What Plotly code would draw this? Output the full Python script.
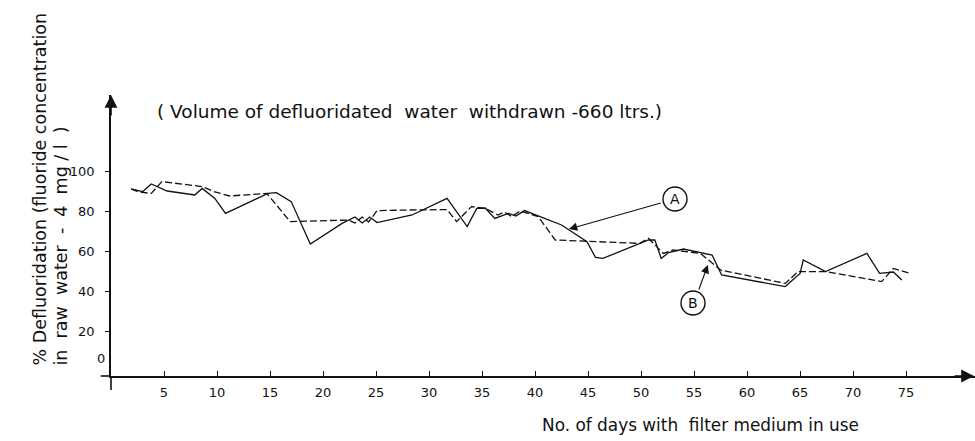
import plotly.graph_objects as go

# Curve A (solid): % defluoridation vs. days of filter use
days_a = [1.9, 3.0, 3.8, 4.3, 5.3, 7.9, 8.6, 9.8, 10.8, 14.8, 15.6, 17.0, 18.8,
          21.8, 23.0, 23.7, 24.4, 25.1, 28.4, 31.7, 32.8, 33.6, 34.5, 35.3,
          36.2, 37.5, 38.2, 39.0, 42.5, 44.9, 45.7, 46.4, 50.7, 51.3, 51.9,
          52.6, 54.0, 56.7, 57.6, 63.6, 65.0, 65.3, 67.4, 71.3, 72.5, 73.8, 74.6]
pct_a = [91.0, 89.7, 93.5, 92.2, 90.0, 88.0, 91.3, 86.3, 78.8, 88.8, 89.2, 84.7, 63.5,
         73.8, 77.0, 74.0, 77.0, 74.2, 78.0, 86.3, 78.0, 72.2, 81.3, 81.5,
         76.3, 78.8, 77.5, 80.2, 73.0, 64.7, 56.8, 56.3, 65.5, 65.5, 56.3,
         59.2, 61.0, 58.0, 48.0, 42.2, 48.8, 55.5, 49.7, 58.8, 48.8, 49.5, 45.5]

# Curve B (dashed)
days_b = [1.9, 2.6, 3.8, 4.8, 8.6, 9.7, 11.2, 14.7, 16.9, 22.4, 23.0, 23.7, 24.3,
          25.1, 28.2, 31.7, 32.6, 34.0, 35.3, 36.5, 37.1, 37.8, 38.6, 40.3,
          41.9, 49.9, 50.7, 52.1, 53.0, 55.6, 57.5, 63.6, 64.8, 67.5, 72.7,
          73.8, 75.4]
pct_b = [91.0, 89.5, 88.8, 94.7, 92.2, 89.7, 87.5, 88.8, 74.7, 75.5, 74.0, 77.0, 74.5,
         80.2, 80.5, 80.7, 74.7, 82.2, 81.3, 78.0, 79.5, 77.2, 80.0, 77.2,
         65.5, 63.8, 66.3, 58.8, 60.5, 58.8, 50.5, 43.8, 49.7, 49.7, 44.7,
         51.3, 48.8]

x_ticks = [5, 10, 15, 20, 25, 30, 35, 40, 45, 50, 55, 60, 65, 70, 75]
y_ticks = [20, 40, 60, 80, 100]

FONT = "DejaVu Sans"
INK = "#111111"

fig = go.Figure()
fig.add_trace(go.Scatter(x=days_a, y=pct_a, mode="lines", name="A",
                         line=dict(color=INK, width=1.3)))
fig.add_trace(go.Scatter(x=days_b, y=pct_b, mode="lines", name="B",
                         line=dict(color=INK, width=1.3, dash="7px,3px")))

X_MAX = 81.5
Y_MIN, Y_MAX = -2.5, 138
W, H = 975, 441
ML, MR, MT, MB = 111, 0, 95, 65

fig.update_layout(
    width=W, height=H,
    margin=dict(l=ML, r=MR, t=MT, b=MB),
    paper_bgcolor="white", plot_bgcolor="white",
    showlegend=False,
    font=dict(family=FONT, color=INK, size=13),
    xaxis=dict(range=[0, X_MAX], tickvals=x_ticks, ticktext=[str(t) for t in x_ticks],
               ticks="inside", ticklen=5, tickwidth=1.2, tickcolor=INK,
               showline=True, linecolor=INK, linewidth=1.6, showgrid=False,
               zeroline=False, tickfont=dict(size=13), ticklabelstandoff=4),
    yaxis=dict(range=[Y_MIN, Y_MAX], tickvals=y_ticks, ticktext=[str(t) for t in y_ticks],
               ticks="outside", ticklen=4, tickwidth=1.2, tickcolor=INK,
               showline=True, linecolor=INK, linewidth=1.6, showgrid=False,
               zeroline=False, tickfont=dict(size=13), ticklabelstandoff=8),
)

# axis overshoot where the two axes cross
fig.add_shape(type="line", xref="paper", yref="paper", x0=-0.012, x1=0, y0=0, y1=0,
              line=dict(color=INK, width=1.6))
fig.add_shape(type="line", xref="paper", yref="paper", x0=0, x1=0, y0=-0.05, y1=0,
              line=dict(color=INK, width=1.6))

# axis arrowheads
fig.add_annotation(x=0, y=Y_MAX, xref="x", yref="y", ax=0, ay=22, axref="pixel", ayref="pixel",
                   text="", showarrow=True, arrowhead=2, arrowsize=1.6, arrowwidth=1.6,
                   arrowcolor=INK, standoff=0)
fig.add_annotation(x=1, y=Y_MIN, xref="paper", yref="y", ax=-22, ay=0, axref="pixel", ayref="pixel",
                   text="", showarrow=True, arrowhead=2, arrowsize=1.6, arrowwidth=1.6,
                   arrowcolor=INK, standoff=0)

# zero label at the origin
fig.add_annotation(x=0, y=0, xref="x", yref="y", text="0", showarrow=False,
                   xanchor="right", xshift=-4, yshift=13, font=dict(size=13))

# curve labels in circles with pointer arrows
labels = [("A", 53.2, 86.0, 43.2, 71.0, 52.0, 84.2),
          ("B", 54.9, 34.0, 56.3, 53.0, 55.4, 40.0)]
for txt, cx, cy, tx, ty, sx, sy in labels:
    fig.add_shape(type="circle", xref="x", yref="y", xsizemode="pixel", ysizemode="pixel",
                  xanchor=cx, yanchor=cy, x0=-12, x1=12, y0=-12, y1=12,
                  line=dict(color=INK, width=1.4))
    fig.add_annotation(x=cx, y=cy, xref="x", yref="y", text=txt, showarrow=False,
                       font=dict(size=14))
    fig.add_annotation(x=tx, y=ty, xref="x", yref="y", ax=sx, ay=sy, axref="x", ayref="y",
                       text="", showarrow=True, arrowhead=2, arrowsize=1.5, arrowwidth=1.1,
                       arrowcolor=INK, standoff=0)


def px_to_paper(px, py):
    return (px - ML) / (W - ML - MR), (H - MB - py) / (H - MT - MB)


def add_text(text, px, py, xa, ya, size, angle=0):
    x, y = px_to_paper(px, py)
    fig.add_annotation(x=x, y=y, xref="paper", yref="paper", text=text, showarrow=False,
                       xanchor=xa, yanchor=ya, textangle=angle, font=dict(size=size))


# note on withdrawn volume
add_text("( Volume of defluoridated  water  withdrawn -660 ltrs.)", 155, 111, "left", "middle", 18.5)
# axis titles
add_text("No. of days with  filter medium in use", 540, 425, "left", "middle", 16.9)
add_text("% Defluoridation (fluoride concentration", 39, 368, "center", "bottom", 17.5, -90)
add_text("in  raw  water  -  4  mg / l  )", 60, 368, "center", "bottom", 17.5, -90)

fig.write_html("out.html")
